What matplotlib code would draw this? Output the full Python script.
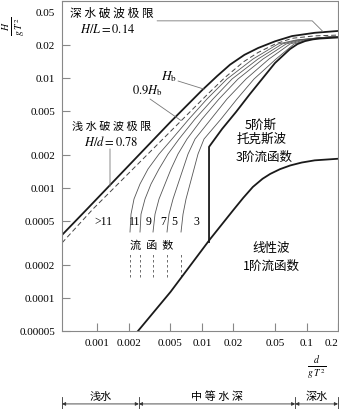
import matplotlib
matplotlib.use("Agg")
import matplotlib.pyplot as plt
from matplotlib.transforms import ScaledTranslation

plt.rcParams['font.family'] = ['Noto Sans CJK SC', 'DejaVu Sans']
plt.rcParams['mathtext.fontset'] = 'stix'

# x = d/gT^2, y = H/gT^2
hb_d = [0.00046, 0.0008, 0.005, 0.01, 0.014, 0.0186, 0.0255, 0.0345, 0.05, 0.0727, 0.12, 0.2]
hb_h = [0.000373, 0.000643, 0.00397, 0.0077, 0.0104, 0.0132, 0.0162, 0.0187, 0.0215, 0.0240, 0.0257, 0.0267]

hb09_d = [0.00046, 0.00091, 0.0066, 0.0115, 0.01665, 0.025, 0.0344, 0.05, 0.0727, 0.12, 0.2]
hb09_h = [0.000316, 0.000643, 0.00424, 0.0072, 0.0101, 0.0140, 0.0170, 0.0203, 0.0229, 0.0241, 0.0245]

# stream function order boundaries (>11|11, 11|9, 9|7, 7|5, 5|3)
sf_h = [0.000397, 0.000577, 0.000792, 0.001085, 0.001485, 0.002032, 0.002782,
        0.00423, 0.00643, 0.00977, 0.01485, 0.02032, 0.0221, 0.0232, 0.0238]
sf_11 = [0.002055, 0.002101, 0.002244, 0.002561, 0.003055, 0.003891, 0.00518,
         0.00753, 0.01119, 0.01738, 0.03082, 0.05341, 0.0794, 0.135, 0.2]
sf_9 = [0.002561, 0.002618, 0.002859, 0.003264, 0.003891, 0.004744, 0.006045,
        0.008597, 0.01277, 0.01941, 0.0344, 0.05837, 0.0830, 0.135, 0.2]
sf_7 = [0.00341, 0.003563, 0.003891, 0.004441, 0.00507, 0.005911, 0.007208,
        0.01003, 0.01458, 0.02215, 0.03841, 0.06371, 0.0886, 0.135, 0.2]
sf_5 = [0.004641, 0.004849, 0.005295, 0.005911, 0.006601, 0.00737, 0.008597,
        0.01223, 0.01738, 0.02641, 0.04383, 0.06955, 0.0947, 0.135, 0.2]
sf_3 = [0.006316, 0.006601, 0.00705, 0.0077, 0.008409, 0.00918, 0.01048,
        0.01524, 0.02167, 0.0315, 0.05115, 0.07599, 0.1012, 0.135, 0.2]
sf_dash_h = [0.000155, 0.000251]
sf_labels = ['11', '9', '7', '5', '3']
sf_label_d = [0.0023, 0.00312, 0.00425, 0.00541, 0.00879]

# stokes 5th / stream function 3 boundary
st_d = [0.0117, 0.0117, 0.01558, 0.0212, 0.0288, 0.0376, 0.05, 0.0696, 0.082, 0.0968, 0.115, 0.1347, 0.2]
st_h = [0.000322, 0.00236, 0.00343, 0.0049, 0.00714, 0.00977, 0.01366, 0.0183, 0.0203, 0.0216, 0.0224, 0.0228, 0.0233]

# linear wave limit
lin_d = [0.00245, 0.005, 0.012, 0.02, 0.0248, 0.0307, 0.038, 0.045, 0.0558, 0.07, 0.09, 0.12, 0.2]
lin_h = [0.00005, 0.000113, 0.000343, 0.00063, 0.00081, 0.00102, 0.00121, 0.00134, 0.00148, 0.0016, 0.0017, 0.00178, 0.00184]

xticks = [0.001, 0.002, 0.005, 0.01, 0.02, 0.05, 0.1, 0.2]
xlabels = ['0.001', '0.002', '0.005', '0.01', '0.02', '0.05', '0.1', '0.2']
yticks = [0.00005, 0.0001, 0.0002, 0.0005, 0.001, 0.002, 0.005, 0.01, 0.02, 0.05]
ylabels = ['0.00005', '0.0001', '0.0002', '0.0005', '0.001', '0.002', '0.005', '0.01', '0.02', '0.05']

zone_edges = [0.00046, 0.0025, 0.078, 0.2]
zone_names = ['浅水', '中 等 水 深', '深水']

fig = plt.figure(figsize=(3.39, 4.10), dpi=100)
ax = fig.add_axes([62 / 339, 78 / 410, 276 / 339, 330 / 410])
ax.set_xscale('log')
ax.set_yscale('log')
ax.set_xlim(0.00046, 0.2)
ax.set_ylim(0.00005, 0.05)

thick = dict(color='#1a1a1a', lw=1.3)
thin = dict(color='#555555', lw=0.6)

ax.plot(hb_d, hb_h, **thick)
ax.plot(hb09_d, hb09_h, color='#444444', lw=0.7, dashes=(5, 3))
for dd in [sf_11, sf_9, sf_7, sf_5, sf_3]:
    ax.plot(dd, sf_h, **thin)
    ax.plot([dd[0], dd[0]], sf_dash_h, color='#555555', lw=0.6, dashes=(3, 3))
ax.plot(st_d, st_h, **thick)
ax.plot(lin_d, lin_h, **thick)

serif = ['Liberation Serif', 'DejaVu Serif']
for lab, xd in zip(sf_labels, sf_label_d):
    ax.text(xd, 0.0005, lab, ha='center', va='center', fontsize=8.5, family=serif)
ax.text(0.001134, 0.0005, '>11', ha='center', va='center', fontsize=8.5, family=serif)
ax.text(0.00334, 0.000303, '流  函  数', ha='center', va='center', fontsize=8)

ax.text(0.00055, 0.0397, '深 水 破 波 极 限', ha='left', va='center', fontsize=8.5)
ax.text(0.00068, 0.0284, r'$H/L=0.14$', ha='left', va='center', fontsize=9)
ax.annotate('', xy=(0.144, 0.0263), xytext=(0.00373, 0.033),
            arrowprops=dict(arrowstyle='-', color='#777777', lw=0.6, shrinkA=0, shrinkB=0,
                            connectionstyle='angle,angleA=0,angleB=135,rad=0'))

ax.text(0.00485, 0.0104, r'$H_{\rm b}$', ha='center', va='center', fontsize=9.5)
ax.annotate('', xy=(0.0105, 0.0079), xytext=(0.00591, 0.00937),
            arrowprops=dict(arrowstyle='-', color='#777777', lw=0.6, shrinkA=0, shrinkB=0))
ax.text(0.00299, 0.00776, r'$0.9H_{\rm b}$', ha='center', va='center', fontsize=9)
ax.annotate('', xy=(0.0063, 0.0041), xytext=(0.00319, 0.00643),
            arrowprops=dict(arrowstyle='-', color='#777777', lw=0.6, shrinkA=0, shrinkB=0))

ax.text(0.00138, 0.00365, '浅 水 破 波 极 限', ha='center', va='center', fontsize=8)
ax.text(0.00135, 0.00267, r'$H/d=0.78$', ha='center', va='center', fontsize=9)
ax.annotate('', xy=(0.001323, 0.00103), xytext=(0.001323, 0.00226),
            arrowprops=dict(arrowstyle='-', color='#777777', lw=0.6, shrinkA=0, shrinkB=0))

ax.text(0.0368, 0.00381, '5阶斯', ha='center', va='center', fontsize=9)
ax.text(0.0375, 0.00284, '托克斯波', ha='center', va='center', fontsize=9)
ax.text(0.0392, 0.00195, '3阶流函数', ha='center', va='center', fontsize=9)
ax.text(0.0458, 0.00029, '线性波', ha='center', va='center', fontsize=9)
ax.text(0.0461, 0.000199, '1阶流函数', ha='center', va='center', fontsize=9)

ax.set_xticks(xticks, xlabels)
ax.set_yticks(yticks, ylabels)
ax.minorticks_off()
ax.tick_params(direction='in', length=6, width=0.8, color='#888888', labelsize=8, pad=5)
for t in ax.get_xticklabels() + ax.get_yticklabels():
    t.set_family(serif)
ax.get_xticklabels()[-1].set_ha('right')
top_lab = ax.get_yticklabels()[-1]
top_lab.set_transform(top_lab.get_transform() + ScaledTranslation(0, -0.11, fig.dpi_scale_trans))
for s in ax.spines.values():
    s.set_color('#888888')
    s.set_linewidth(0.8)

fig.text(15 / 339, 1 - 26 / 410, r'$\frac{H}{g\;T^{2}}$', rotation=90, ha='center', va='center', fontsize=10)
fig.text(317 / 339, 1 - 368 / 410, r'$\frac{d}{g\;T^{2}}$', ha='center', va='center', fontsize=10)

# depth zones under the axis
tr = ax.get_xaxis_transform()
for e in zone_edges:
    ax.plot([e, e], [-0.2, -0.245], transform=tr, color='#333333', lw=0.6, clip_on=False)
for a, b, name in zip(zone_edges[:-1], zone_edges[1:], zone_names):
    ax.annotate('', xy=(a, -0.221), xytext=(b, -0.221), xycoords=tr, textcoords=tr,
                arrowprops=dict(arrowstyle='<|-|>', color='#333333', lw=0.6,
                                mutation_scale=5, shrinkA=0, shrinkB=0))
    ax.text((a * b) ** 0.5, -0.197, name, transform=tr, ha='center', va='center', fontsize=8)

fig.savefig('out.png', dpi=100)
